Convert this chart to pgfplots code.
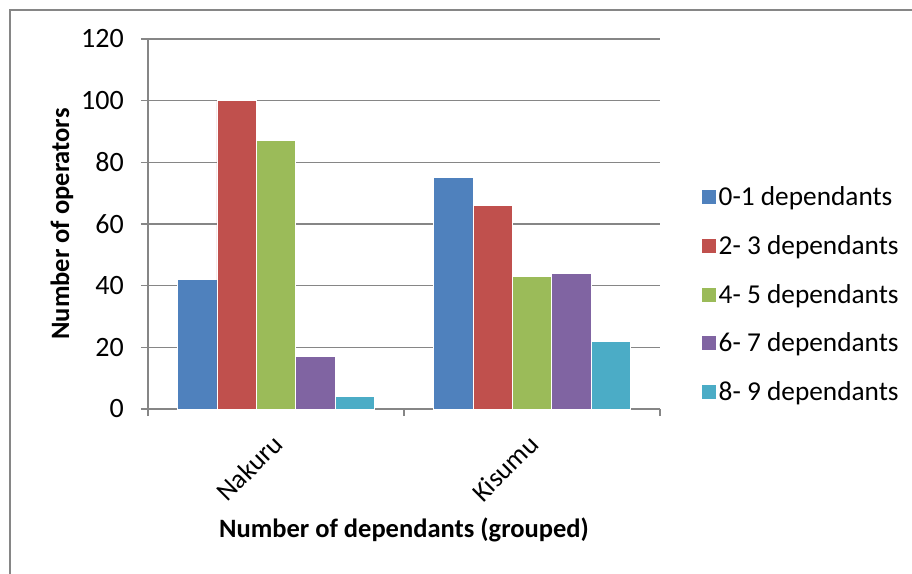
\documentclass[border=0pt]{standalone}
\usepackage{pgfplots}
\pgfplotsset{compat=1.18}
\usepackage{fontspec}
\setmainfont{Carlito}

\definecolor{ser1}{HTML}{4F81BD}
\definecolor{ser2}{HTML}{C0504D}
\definecolor{ser3}{HTML}{9BBB59}
\definecolor{ser4}{HTML}{8064A2}
\definecolor{ser5}{HTML}{4BACC6}
\definecolor{axgray}{HTML}{868686}

\begin{document}
\begin{tikzpicture}[x=1pt,y=1pt]
\path[use as bounding box] (0,0) rectangle (912,573);
\clip (0,0) rectangle (912,573);
% chart frame (only left and top edges show)
\draw[axgray, line width=1.5pt] (10,-20) -- (10,563) -- (950,563);

\begin{axis}[
    at={(148pt,164pt)}, anchor=south west,
    scale only axis,
    width=512pt, height=370pt,
    ybar=0pt, bar width=39.4pt,
    xmin=-0.5, xmax=1.5,
    ymin=0, ymax=120, ytick={0,20,...,120},
    yticklabels={0,20,40,60,80,100,120},
    xtick={-0.5,0.5,1.5}, xticklabels={},
    extra x ticks={0,1}, extra x tick labels={Nakuru,Kisumu},
    extra x tick style={major tick length=0pt},
    axis lines=left, axis line style={-, axgray, line width=1.5pt},
    ymajorgrids, grid style={axgray, line width=1.5pt},
    tick align=outside,
    tick style={axgray, line width=1.5pt},
    major tick length=7pt,
    yticklabel style={font=\fontsize{28}{32}\selectfont, inner sep=0pt, anchor=east, xshift=-17pt},
    xticklabel style={font=\fontsize{27}{31}\selectfont, xshift=-5pt, yshift=-19pt, rotate=45, anchor=north east},
    ylabel={Number of operators},
    xlabel={Number of dependants (grouped)},
    every axis y label/.style={at={(rel axis cs:-0.168,0.5)}, rotate=90, anchor=center,
        font=\fontsize{26.5}{30}\selectfont\bfseries},
    every axis x label/.style={at={(rel axis cs:0.5,-0.327)}, anchor=center,
        font=\fontsize{26.5}{30}\selectfont\bfseries},
    legend style={draw=none, fill=none, at={(1.074,0.612)}, anchor=north west,
        font=\fontsize{27.3}{31}\selectfont, row sep=24.2pt,
        /tikz/every odd column/.style={inner sep=0pt},
        /tikz/every even column/.style={inner sep=3pt}},
    legend cell align=left,
    legend image code/.code={\fill[#1] (0pt,-7.5pt) rectangle (15pt,7.5pt);},
    every axis plot/.append style={draw=white, line width=0.6pt},
]
\addplot[fill=ser1] coordinates {(0,42) (1,75)};
\addlegendentry{0-1 dependants}
\addplot[fill=ser2] coordinates {(0,100) (1,66)};
\addlegendentry{2- 3 dependants}
\addplot[fill=ser3] coordinates {(0,87) (1,43)};
\addlegendentry{4- 5 dependants}
\addplot[fill=ser4] coordinates {(0,17) (1,44)};
\addlegendentry{6- 7 dependants}
\addplot[fill=ser5] coordinates {(0,4) (1,22)};
\addlegendentry{8- 9 dependants}
\end{axis}
\end{tikzpicture}
\end{document}
